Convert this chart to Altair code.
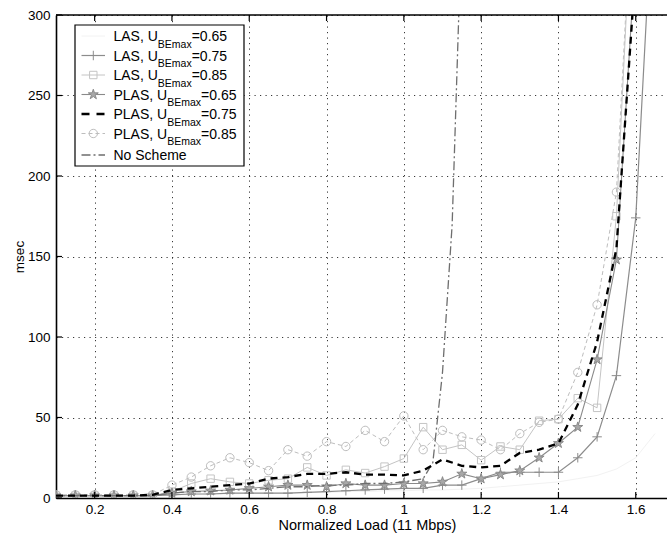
import altair as alt
import pandas as pd

# ---------------------------------------------------------------- data
LOAD = [0.10, 0.15, 0.20, 0.25, 0.30, 0.35, 0.40, 0.45, 0.50, 0.55,
        0.60, 0.65, 0.70, 0.75, 0.80, 0.85, 0.90, 0.95, 1.00, 1.05,
        1.10, 1.15, 1.20, 1.25, 1.30, 1.35, 1.40, 1.45, 1.50, 1.55, 1.60]
LOAD_EXT = LOAD + [1.65]
LOAD_NOSCHEME = [0.10, 0.15, 0.20, 0.25, 0.30, 0.35, 0.40, 0.45, 0.50, 0.55,
                 0.60, 0.65, 0.70, 0.75, 0.80, 0.85, 0.90, 0.95, 1.00, 1.05,
                 1.075, 1.10, 1.125, 1.15]

LAS_065 = [1.5, 1.5, 1.5, 1.5, 1.5, 1.5, 2, 2, 2.5, 2.5,
           3, 3, 3, 3.5, 3.5, 4, 4, 4.5, 4.5, 5,
           5, 5.5, 6, 7, 8, 9, 10, 12, 14, 18, 25, 40]
LAS_075 = [1.5, 1.5, 1.5, 1.5, 1.5, 1.5, 2, 2.5, 2.5, 3,
           3, 3, 3, 3.5, 4, 4.5, 5, 5.5, 6, 6,
           8, 8, 12, 16, 16, 16, 16, 25, 38, 76, 174, 400]
LAS_085 = [1.5, 1.5, 1.5, 1.5, 1.5, 1.5, 4, 9, 12, 10,
           9, 11, 12, 19, 14, 17.5, 15.5, 19.5, 24.5, 44,
           30, 33, 23.5, 32, 30, 48, 49, 62, 56, 175, 420]
PLAS_065 = [1.5, 1.5, 1.5, 1.5, 1.5, 1.5, 3, 4, 4.5, 5,
            6, 7, 8, 8, 7, 9, 8, 8, 9, 9,
            10, 15, 12, 14.5, 17, 25, 34, 44, 86, 148, 340]
PLAS_075 = [1.5, 1.5, 1.5, 1.5, 1.5, 2, 5, 6, 7, 8,
            9, 12, 13, 15, 15, 16, 14.5, 14.5, 14, 17,
            24, 20, 19, 20, 28, 30, 34, 58, 97, 155, 330]
PLAS_085 = [2, 2, 2, 2, 2, 2, 8, 13, 20, 25,
            22, 17, 30, 26, 35, 32, 42, 35, 51, 30,
            42, 38, 36, 30, 40, 47, 49, 78, 120, 190, 420]
NO_SCHEME = [1.5, 1.5, 1.5, 1.5, 1.5, 1.5, 3, 4, 4, 5,
             5, 6, 7, 7, 8, 8, 9, 9, 10, 12,
             22, 78, 170, 360]

X_TICKS = [0.2, 0.4, 0.6, 0.8, 1.0, 1.2, 1.4, 1.6]
Y_TICKS = [0, 50, 100, 150, 200, 250, 300]

# ---------------------------------------------------------------- layout
W, H = 611, 483
X_MIN = 0.1
X_MAX = X_MIN + W / 386.5
FONT = "Liberation Sans"
GRID_DASH = [1.2, 4.3]

STAR = ("M0,-1L0.22,-0.31L0.95,-0.31L0.36,0.12L0.59,0.81L0,0.38"
        "L-0.59,0.81L-0.36,0.12L-0.95,-0.31L-0.22,-0.31Z")
PLUS = "M-1,0L1,0M0,-1L0,1"

x_enc = alt.X(
    "load:Q",
    scale=alt.Scale(domain=[X_MIN, X_MAX], nice=False, zero=False),
    axis=alt.Axis(
        values=X_TICKS,
        labelExpr="datum.value == 1 ? '1' : format(datum.value, '.1f')",
        grid=True, gridDash=GRID_DASH, gridColor="#222", gridOpacity=0.9,
        ticks=False, domainColor="black", domainWidth=1.3,
        labelFont=FONT, labelFontSize=13.5, labelColor="black", labelPadding=4,
        title="Normalized Load (11 Mbps)", titleFont=FONT, titleFontSize=14.5,
        titleFontWeight="normal", titleColor="black", titlePadding=3,
        titleX=311,
    ),
)
y_enc = alt.Y(
    "msec:Q",
    scale=alt.Scale(domain=[0, 300], nice=False),
    axis=alt.Axis(
        values=Y_TICKS,
        grid=True, gridDash=GRID_DASH, gridColor="#222", gridOpacity=0.9,
        ticks=False, domainColor="black", domainWidth=1.6,
        labelFont=FONT, labelFontSize=13.5, labelColor="black", labelPadding=6,
        title="msec", titleFont=FONT, titleFontSize=13.5,
        titleFontWeight="normal", titleColor="black", titlePadding=1,
    ),
)


def frame(xs, ys):
    return pd.DataFrame({"load": xs, "msec": ys})


def series(xs, ys, color, width=1.0, dash=None, shape=None, size=64,
           filled=False, fill=None):
    df = frame(xs, ys)
    line_kw = dict(color=color, strokeWidth=width, clip=True)
    if dash:
        line_kw["strokeDash"] = dash
    layers = [alt.Chart(df).mark_line(**line_kw).encode(x=x_enc, y=y_enc)]
    if shape:
        pt_kw = dict(shape=shape, size=size, stroke=color, strokeWidth=1,
                     filled=filled, clip=True, opacity=1)
        if filled:
            pt_kw["fill"] = fill or color
        layers.append(alt.Chart(df).mark_point(**pt_kw).encode(x=x_enc, y=y_enc))
    return layers


layers = []
layers += series(LOAD_EXT, LAS_065, "#f2f2f2", 1.0)
layers += series(LOAD, PLAS_085, "#bdbdbd", 1.0, dash=[4, 3], shape="circle", size=70)
layers += series(LOAD, LAS_085, "#c4c4c4", 1.0, shape="square", size=55)
layers += series(LOAD_EXT, LAS_075, "#8c8c8c", 1.2, shape=PLUS, size=90)
layers += series(LOAD, PLAS_065, "#8a8a8a", 1.1, shape=STAR, size=110,
                 filled=True, fill="#a8a8a8")
layers += series(LOAD_NOSCHEME, NO_SCHEME, "#6e6e6e", 1.3, dash=[9, 3, 2, 3])
layers += series(LOAD, PLAS_075, "black", 2.3, dash=[7, 5])

# inward tick marks on bottom, top and left edges, plus the top frame line
xt = pd.DataFrame({"load": X_TICKS})
yt = pd.DataFrame({"msec": Y_TICKS})
layers.append(alt.Chart(xt).mark_rule(color="black", strokeWidth=1.2).encode(
    x=x_enc, y=alt.value(H), y2=alt.value(H - 6)))
layers.append(alt.Chart(xt).mark_rule(color="black", strokeWidth=1.2).encode(
    x=x_enc, y=alt.value(0), y2=alt.value(6)))
layers.append(alt.Chart(yt).mark_rule(color="black", strokeWidth=1.2).encode(
    y=y_enc, x=alt.value(0), x2=alt.value(6)))
layers.append(alt.Chart(xt.head(1)).mark_rule(color="black", strokeWidth=1.5).encode(
    x=alt.value(0), x2=alt.value(W), y=alt.value(0)))

# ---------------------------------------------------------------- legend
ARIAL = {"L": 556, "A": 667, "S": 667, "P": 667, ",": 278, " ": 278, "U": 722,
         "B": 667, "E": 667, "m": 833, "a": 556, "x": 500, "=": 584, ".": 278}


def text_w(s, size):
    return sum(ARIAL.get(c, 556) for c in s) / 1000.0 * size


one = pd.DataFrame({"k": [0]})
BOX = (19, 10, 188, 151)
layers.append(alt.Chart(one).mark_rect(fill="white", stroke="black", strokeWidth=1.2).encode(
    x=alt.value(BOX[0]), x2=alt.value(BOX[2]), y=alt.value(BOX[1]), y2=alt.value(BOX[3])))

LEG_ROWS = [
    ("LAS, U", "BEmax", "=0.65"),
    ("LAS, U", "BEmax", "=0.75"),
    ("LAS, U", "BEmax", "=0.85"),
    ("PLAS, U", "BEmax", "=0.65"),
    ("PLAS, U", "BEmax", "=0.75"),
    ("PLAS, U", "BEmax", "=0.85"),
    ("No Scheme", "", ""),
]
BASE = [26, 45.5, 65, 84.5, 104, 123.5, 145]
MAIN_FS, SUB_FS = 14, 10.5
SUB_DROP = 6.5
TX = 57.5
SX0, SX1, SXM = 25.5, 49, 37.3

sym_styles = [
    dict(color="#f2f2f2", width=1.0),
    dict(color="#8c8c8c", width=1.2, shape=PLUS, size=90),
    dict(color="#c4c4c4", width=1.0, shape="square", size=55),
    dict(color="#8a8a8a", width=1.1, shape=STAR, size=110, filled=True, fill="#a8a8a8"),
    dict(color="black", width=2.3, dash=[8, 7]),
    dict(color="#bdbdbd", width=1.0, dash=[4, 3], shape="circle", size=70),
    dict(color="#6e6e6e", width=1.3, dash=[9, 3, 2, 3]),
]

for (pre, sub, post), by, st in zip(LEG_ROWS, BASE, sym_styles):
    sy = by - 5
    rule_kw = dict(color=st["color"], strokeWidth=st["width"])
    if "dash" in st:
        rule_kw["strokeDash"] = st["dash"]
    layers.append(alt.Chart(one).mark_rule(**rule_kw).encode(
        x=alt.value(SX0), x2=alt.value(SX1), y=alt.value(sy)))
    if "shape" in st:
        pt_kw = dict(shape=st["shape"], size=st["size"], stroke=st["color"],
                     strokeWidth=1, filled=st.get("filled", False), opacity=1)
        if st.get("filled"):
            pt_kw["fill"] = st["fill"]
        layers.append(alt.Chart(one).mark_point(**pt_kw).encode(
            x=alt.value(SXM), y=alt.value(sy)))
    tkw = dict(font=FONT, color="black", align="left", baseline="alphabetic")
    layers.append(alt.Chart(one).mark_text(text=pre, fontSize=MAIN_FS, **tkw).encode(
        x=alt.value(TX), y=alt.value(by)))
    if sub:
        sx = TX + text_w(pre, MAIN_FS)
        layers.append(alt.Chart(one).mark_text(text=sub, fontSize=SUB_FS, **tkw).encode(
            x=alt.value(sx), y=alt.value(by + SUB_DROP)))
        px = sx + text_w(sub, SUB_FS)
        layers.append(alt.Chart(one).mark_text(text=post, fontSize=MAIN_FS, **tkw).encode(
            x=alt.value(px), y=alt.value(by)))

chart = alt.layer(*layers).properties(
    width=W, height=H,
    padding={"left": 56, "top": 15, "right": 0, "bottom": 36},
    autosize=alt.AutoSizeParams(type="none"),
    background="white",
).configure_view(stroke=None)

chart.save("out.html", embed_options={"renderer": "svg", "actions": False})
